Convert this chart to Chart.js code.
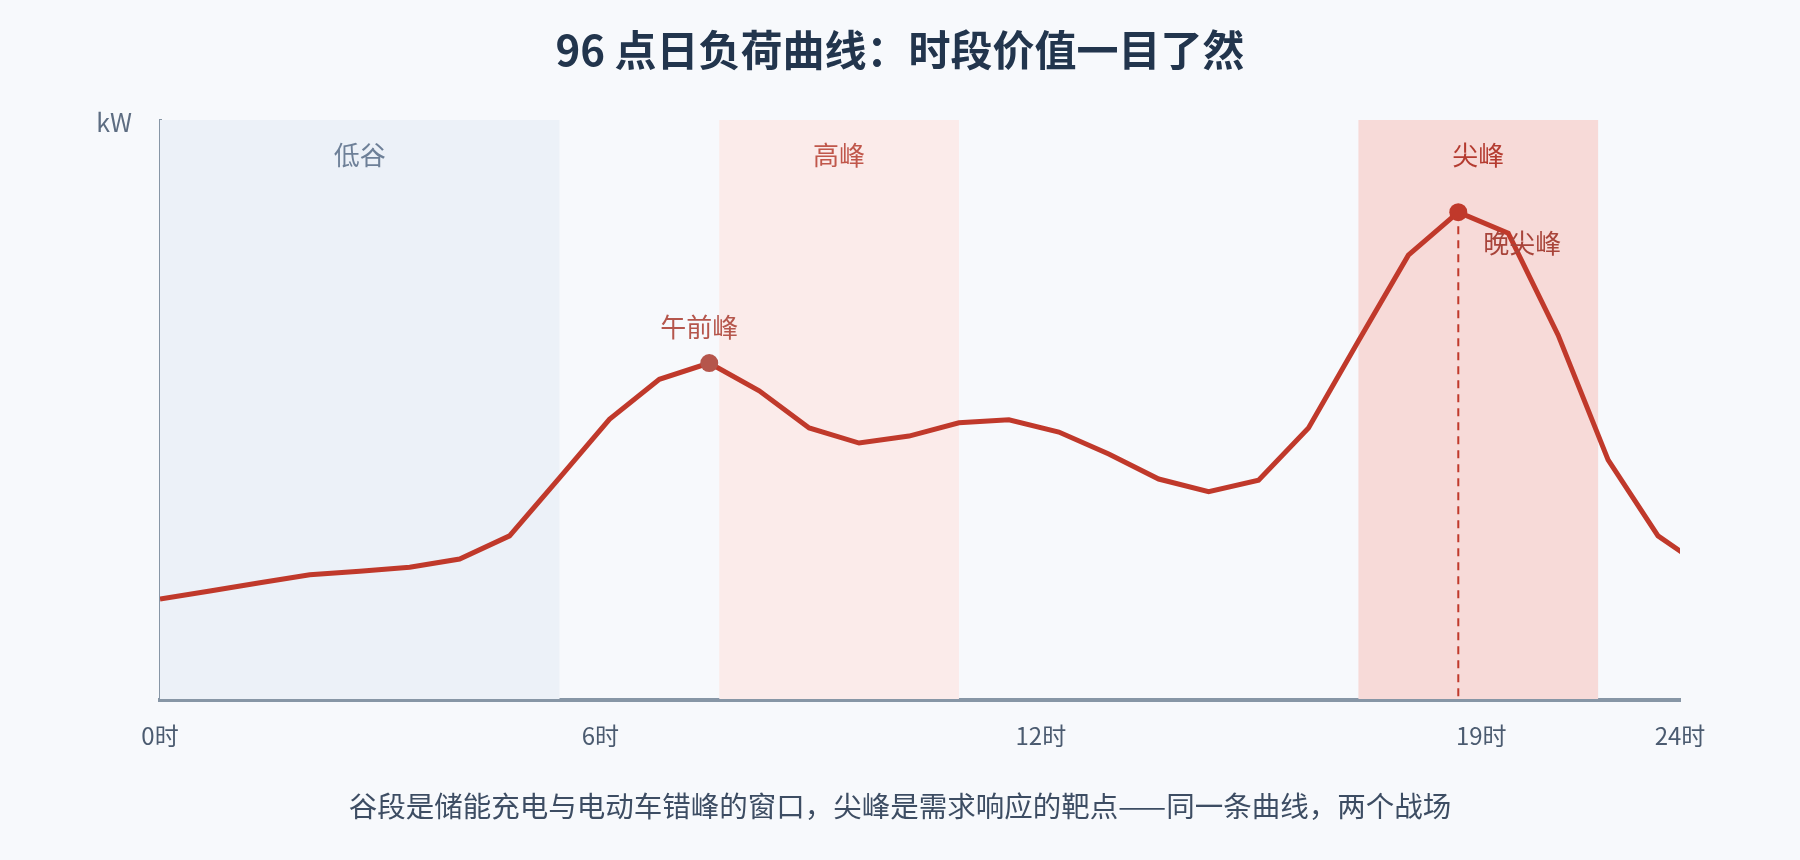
<!DOCTYPE html>
<html lang="zh-CN">
<head>
<meta charset="utf-8">
<title>96 点日负荷曲线</title>
<script src="https://cdn.jsdelivr.net/npm/chart.js@4.4.1/dist/chart.umd.min.js"></script>
<style>
  html, body { margin: 0; padding: 0; background: #f7f9fc; }
  #wrap { width: 1800px; height: 860px; }
</style>
</head>
<body>
<div id="wrap"><canvas id="loadChart" width="1800" height="860"></canvas></div>
<script>
// load per sample slot, kW (last one runs past the right edge and gets clipped)
const load = [174, 188, 202, 216, 222, 229, 243, 283, 383, 484, 553, 581, 533, 469, 443, 455,
              478, 483, 462, 424, 381, 359, 379, 469, 619, 767, 841, 805, 629, 414, 283, 224];

const xMax = 30.44;
const yMax = 1000;
const tickAt = [0, 8.82, 17.64, 26.46, 30.44];
const tickLabels = ['0时', '6时', '12时', '19时', '24时'];

// tariff periods, in sample-slot units
const bandNames = ['低谷', '高峰', '尖峰'];
const bandFrom = [0, 11.2, 24];
const bandTo = [8, 16, 28.8];
const bandFill = ['#ecf1f8', '#fbebea', '#f7dad8'];
const bandText = ['#6e8098', '#c0574b', '#b43b30'];

const peakNames = ['午前峰', '晚尖峰'];
const peakIdx = [11, 26];
const peakColor = ['#b5564c', '#c0392b'];

const FONT = '"Noto Sans CJK SC", "Noto Sans", sans-serif';
const LINE = '#c0392b';
const AXIS = '#8796a6';

const bandsPlugin = {
  id: 'bands',
  beforeDatasetsDraw(chart) {
    const { ctx, chartArea: a, scales: { x } } = chart;
    ctx.save();
    ctx.font = `26px ${FONT}`;
    ctx.textAlign = 'center';
    ctx.textBaseline = 'middle';
    bandNames.forEach((name, i) => {
      const x0 = x.getPixelForValue(bandFrom[i]);
      const x1 = x.getPixelForValue(bandTo[i]);
      ctx.fillStyle = bandFill[i];
      ctx.fillRect(x0, a.top, x1 - x0, a.bottom - a.top - 1);
      ctx.fillStyle = bandText[i];
      ctx.fillText(name, (x0 + x1) / 2, a.top + 35);
    });
    // drop line under the evening peak
    const pk = chart.getDatasetMeta(0).data[peakIdx[1]];
    ctx.strokeStyle = LINE;
    ctx.lineWidth = 2;
    ctx.setLineDash([8, 6]);
    ctx.beginPath();
    ctx.moveTo(pk.x, pk.y);
    ctx.lineTo(pk.x, a.bottom - 1);
    ctx.stroke();
    ctx.restore();
  },
  afterDatasetsDraw(chart) {
    const { ctx, chartArea: a } = chart;
    const pts = chart.getDatasetMeta(0).data;
    ctx.save();
    ctx.font = `26px ${FONT}`;
    ctx.textBaseline = 'middle';
    // morning peak label sits above its dot
    const am = pts[peakIdx[0]];
    ctx.fillStyle = peakColor[0];
    ctx.textAlign = 'center';
    ctx.fillText(peakNames[0], am.x - 10, am.y - 36);
    // evening peak label to the lower right
    const pm = pts[peakIdx[1]];
    ctx.fillStyle = '#a8443a';
    ctx.textAlign = 'left';
    ctx.fillText(peakNames[1], pm.x + 25, pm.y + 31);
    // unit
    ctx.font = `25px ${FONT}`;
    ctx.fillStyle = '#5d6d82';
    ctx.textAlign = 'right';
    ctx.fillText('kW', a.left - 28, a.top + 2);
    ctx.restore();
  }
};

new Chart(document.getElementById('loadChart'), {
  type: 'line',
  data: {
    datasets: [{
      data: load.map((v, i) => ({ x: i, y: v })),
      borderColor: LINE,
      borderWidth: 5,
      tension: 0,
      fill: false,
      pointRadius: ctx => peakIdx.includes(ctx.dataIndex) ? 9 : 0,
      pointHoverRadius: 0,
      pointBorderWidth: 0,
      pointBackgroundColor: ctx => peakColor[peakIdx.indexOf(ctx.dataIndex)] || LINE
    }]
  },
  options: {
    responsive: false,
    animation: false,
    devicePixelRatio: 1,
    layout: { padding: 0 },
    plugins: {
      legend: { display: false },
      tooltip: { enabled: false },
      title: {
        display: true,
        text: '96 点日负荷曲线：时段价值一目了然',
        color: '#22354d',
        font: { size: 42, weight: 'bold', family: FONT },
        padding: { top: 25, bottom: 44.6 }
      },
      subtitle: {
        display: true,
        position: 'bottom',
        text: '谷段是储能充电与电动车错峰的窗口，尖峰是需求响应的靶点——同一条曲线，两个战场',
        color: '#3d4d63',
        font: { size: 28.5, family: FONT },
        padding: { top: 8.9, bottom: 36.9 }
      }
    },
    scales: {
      x: {
        type: 'linear',
        min: 0,
        max: xMax,
        grid: { display: false, drawTicks: false },
        border: { display: true, color: AXIS, width: 4 },
        afterBuildTicks: s => { s.ticks = tickAt.map(v => ({ value: v })); },
        afterFit: s => { s.height = 80; },
        ticks: {
          autoSkip: false,
          maxRotation: 0,
          padding: 21,
          color: '#4b5b70',
          font: { size: 24, family: FONT },
          callback: (v, i) => tickLabels[i]
        }
      },
      y: {
        type: 'linear',
        min: 0,
        max: yMax,
        grid: { display: false, drawTicks: false },
        border: { display: true, color: AXIS, width: 3 },
        ticks: { display: false },
        afterFit: s => { s.width = 160; }
      },
      yRight: {
        type: 'linear',
        position: 'right',
        grid: { display: false, drawTicks: false },
        border: { display: false },
        ticks: { display: false },
        afterFit: s => { s.width = 120; }
      }
    }
  },
  plugins: [bandsPlugin]
});
</script>
</body>
</html>
